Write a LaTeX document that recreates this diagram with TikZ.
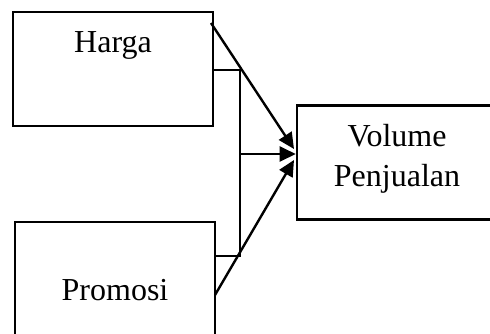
\documentclass[tikz,border=0pt]{standalone}
\usepackage{fontspec}
\setmainfont{Liberation Serif}
\usetikzlibrary{arrows.meta}
\begin{document}
\begin{tikzpicture}[x=1pt,y=-1pt,line width=2.4pt,
  box/.style={draw,line width=2.6pt,minimum width=200pt,minimum height=114pt,inner sep=0pt},
  lbl/.style={font=\fontsize{32}{40}\selectfont,align=center,inner sep=0pt},
  arr/.style={-{Triangle[length=16pt,width=15pt]}}]
\useasboundingbox(0,0)rectangle(490,333);
\node[box](harga)at(113,69){};
\node[box](promosi)at(115,279){};
\node[box](volume)at(397,162.5){};
\node[lbl](tharga)at(113,45){Harga};
\node[lbl](tpromosi)at(115,290){Promosi};
\node[lbl](tvolume)at(397,159){Volume\\Penjualan};
\coordinate(hs)at(211,23);
\coordinate(ps)at(215,295);
\coordinate(jt)at(240,70);
\coordinate(jm)at(240,154);
\coordinate(jb)at(240,256);
\draw(harga.east|-jt)--(jt)--(jb)--(promosi.east|-jb);
\draw[arr](hs)--(294,149);
\draw[arr](jm)--(volume.west|-jm);
\draw[arr](ps)--(294,160);
\end{tikzpicture}
\end{document}
